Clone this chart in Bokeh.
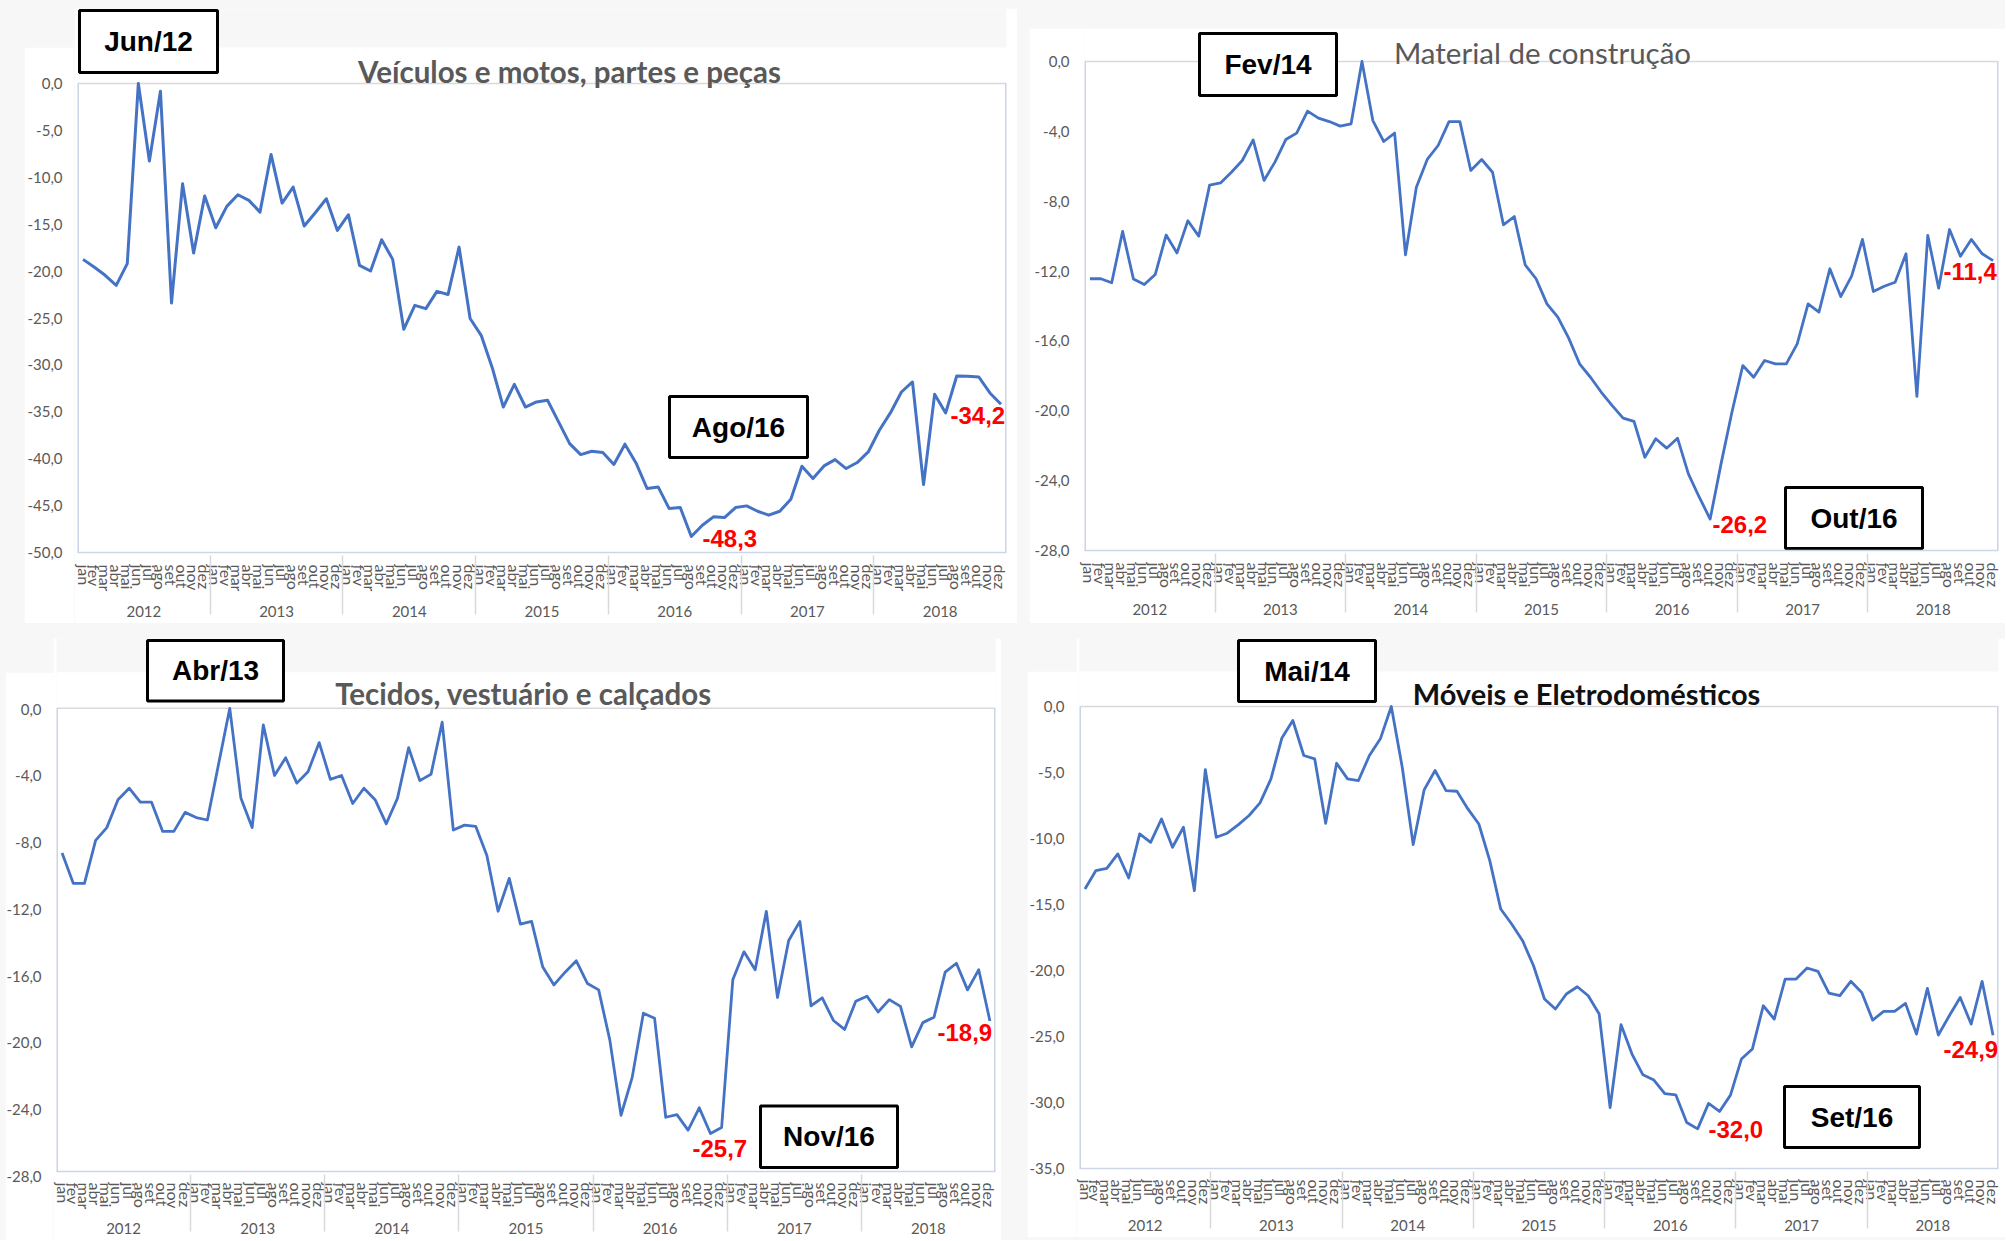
from bokeh.plotting import figure
from bokeh.models import (FactorRange, Range1d, FixedTicker, CustomJSTickFormatter,
                          Label, Spacer, ColumnDataSource)
from bokeh.layouts import row, column
from bokeh.embed import file_html
from bokeh.resources import INLINE

# ---------------- data ----------------
years = ["2012", "2013", "2014", "2015", "2016", "2017", "2018"]
months = ["jan", "fev", "mar", "abr", "mai", "jun", "jul", "ago", "set", "out", "nov", "dez"]

veiculos = [
    -18.75, -19.57, -20.45, -21.52, -19.21, 0.0, -8.27, -0.82, -23.4, -10.69, -18.08, -12.0,
    -15.38, -13.1, -11.86, -12.46, -13.71, -7.56, -12.75, -11.04, -15.2, -13.78, -12.29, -15.66,
    -13.99, -19.39, -19.99, -16.65, -18.75, -26.2, -23.65, -24.0, -22.16, -22.5, -17.44, -25.05,
    -26.85, -30.3, -34.49, -32.07, -34.49, -33.95, -33.77, -36.08, -38.39, -39.56, -39.21, -39.35,
    -40.62, -38.45, -40.45, -43.18, -43.01, -45.32, -45.21, -48.3, -47.09, -46.2, -46.27, -45.21,
    -45.03, -45.6, -46.02, -45.6, -44.32, -40.8, -42.12, -40.77, -40.1, -41.05, -40.41, -39.28,
    -36.97, -35.12, -32.89, -31.82, -42.76, -33.14, -35.12, -31.18, -31.22, -31.29, -32.99, -34.2,
]
material = [
    -12.44, -12.44, -12.67, -9.73, -12.46, -12.77, -12.2, -9.94, -10.96, -9.12, -10.0, -7.08,
    -6.95, -6.34, -5.67, -4.49, -6.81, -5.76, -4.47, -4.1, -2.84, -3.24, -3.44, -3.7,
    -3.57, 0.0, -3.38, -4.58, -4.1, -11.07, -7.2, -5.61, -4.81, -3.44, -3.44, -6.24,
    -5.61, -6.34, -9.35, -8.88, -11.64, -12.44, -13.88, -14.64, -15.84, -17.31, -18.08, -18.94,
    -19.7, -20.42, -20.61, -22.66, -21.6, -22.14, -21.57, -23.61, -24.95, -26.2, -23.04, -20.08,
    -17.41, -18.08, -17.12, -17.31, -17.31, -16.17, -13.88, -14.35, -11.87, -13.46, -12.29, -10.19,
    -13.17, -12.87, -12.64, -11.01, -19.18, -9.96, -12.98, -9.62, -11.15, -10.19, -11.01, -11.4,
]
tecidos = [
    -8.74, -10.58, -10.58, -7.98, -7.21, -5.52, -4.83, -5.67, -5.67, -7.44, -7.44, -6.29,
    -6.6, -6.75, -3.37, 0.0, -5.44, -7.21, -1.0, -4.06, -2.99, -4.52, -3.83, -2.07,
    -4.29, -4.06, -5.75, -4.83, -5.52, -6.98, -5.44, -2.38, -4.37, -3.99, -0.84, -7.36,
    -7.06, -7.13, -8.9, -12.27, -10.28, -13.04, -12.88, -15.64, -16.72, -15.95, -15.26, -16.64,
    -17.02, -20.06, -24.6, -22.31, -18.43, -18.73, -24.72, -24.56, -25.5, -24.15, -25.7, -25.34,
    -16.41, -14.72, -15.8, -12.27, -17.48, -14.03, -12.88, -17.98, -17.5, -18.87, -19.41, -17.71,
    -17.4, -18.36, -17.61, -18.02, -20.47, -19.0, -18.67, -15.95, -15.41, -17.02, -15.8, -18.9,
]
moveis = [
    -13.82, -12.43, -12.26, -11.17, -12.99, -9.65, -10.29, -8.52, -10.66, -9.15, -13.95, -4.78,
    -9.91, -9.6, -8.97, -8.26, -7.3, -5.48, -2.38, -1.06, -3.71, -3.97, -8.85, -4.3,
    -5.48, -5.61, -3.71, -2.45, 0.0, -4.6, -10.46, -6.32, -4.85, -6.37, -6.42, -7.76,
    -8.9, -11.68, -15.34, -16.48, -17.74, -19.64, -22.16, -22.92, -21.78, -21.23, -21.91, -23.3,
    -30.38, -24.11, -26.33, -27.9, -28.3, -29.32, -29.42, -31.51, -32.0, -30.07, -30.68, -29.44,
    -26.71, -25.95, -22.67, -23.68, -20.65, -20.65, -19.81, -20.07, -21.71, -21.91, -20.82, -21.66,
    -23.76, -23.1, -23.1, -22.49, -24.82, -21.35, -24.89, -23.43, -22.04, -24.06, -20.82, -24.9,
]

titles = ["Veículos e motos, partes e peças", "Material de construção",
          "Tecidos, vestuário e calçados", "Móveis e Eletrodomésticos"]
yticks_tl = [0, -5, -10, -15, -20, -25, -30, -35, -40, -45, -50]
yticks_tr = [0, -4, -8, -12, -16, -20, -24, -28]
yticks_bl = [0, -4, -8, -12, -16, -20, -24, -28]
yticks_br = [0, -5, -10, -15, -20, -25, -30, -35]

# ---------------- style ----------------
PAGE_BG = "#F7F7F7"
LINE = "#4472C4"
GRID = "#D9D9D9"
AXIS = "#CCD5E6"
TXT = "#595959"
FONT = "Lato"
BOXFONT = "Liberation Sans"

factors = [(y, m) for y in years for m in months]
N = len(factors)


def style_yaxis(ya, yticks, stand):
    ya.ticker = FixedTicker(ticks=yticks)
    ya.formatter = CustomJSTickFormatter(code="return tick.toFixed(1).replace('.', ',');")
    ya.axis_line_color = None
    ya.major_tick_line_color = None
    ya.minor_tick_line_color = None
    ya.major_tick_in = 0
    ya.major_tick_out = 0
    ya.major_label_standoff = stand
    ya.major_label_text_font = FONT
    ya.major_label_text_font_size = "15px"
    ya.major_label_text_color = TXT


def panel(values, geo, yticks, title, boxes, notes):
    fx0, fy0, w, h = geo["fig"]
    fl, fr, ft, fb = geo["frame"]
    y0px, ymin = geo["y0px"], geo["ymin"]
    unit = (fb - y0px) / (0 - ymin)
    ytop = (y0px - ft) / unit
    mw = (fr - fl) / N
    split = geo.get("yfig") is not None

    def px2x(px):
        return (px - fl) / mw

    def py2y(py):
        return (y0px - py) / unit

    p = figure(width=w, height=h,
               x_range=FactorRange(factors=factors, factor_padding=0, group_padding=0,
                                   subgroup_padding=0, range_padding=0),
               y_range=Range1d(ymin, ytop),
               y_axis_location=None if split else "left",
               output_backend="svg", toolbar_location=None, title=None,
               min_border_left=fl - fx0, min_border_right=fx0 + w - fr,
               min_border_top=ft - fy0, min_border_bottom=fy0 + h - fb,
               background_fill_color="white", border_fill_color="white",
               outline_line_color=None)
    p.xgrid.visible = False
    p.ygrid.visible = False

    xa = p.xaxis[0]
    xa.major_label_orientation = "vertical"
    xa.group_label_orientation = "horizontal"
    xa.major_label_text_font = FONT
    xa.major_label_text_font_size = "16px"
    xa.major_label_text_color = TXT
    xa.group_text_font = FONT
    xa.group_text_font_size = "15px"
    xa.group_text_font_style = "normal"
    xa.group_text_color = TXT
    xa.axis_line_color = AXIS
    xa.axis_line_width = 1.5
    xa.major_tick_line_color = None
    xa.major_tick_in = 0
    xa.major_tick_out = 0
    xa.minor_tick_line_color = None
    xa.major_label_standoff = geo["xstand"]
    xa.separator_line_color = GRID
    xa.separator_line_width = 1.5

    yfig = None
    if split:
        # separate narrow figure carrying the y axis, same pixel scale, starts at card top
        gx0, gy0, gw, gh = geo["yfig"]
        ct = geo["card_top"]
        yfig = figure(width=gw, height=gh, y_range=Range1d(ymin, py2y(ct)),
                      x_range=Range1d(0, 1), x_axis_location=None,
                      output_backend="svg", toolbar_location=None, title=None,
                      min_border_left=gw - 1, min_border_right=0,
                      min_border_top=ct - gy0, min_border_bottom=gy0 + gh - fb,
                      background_fill_color="white", border_fill_color="white",
                      outline_line_color=None)
        yfig.xgrid.visible = False
        yfig.ygrid.visible = False
        style_yaxis(yfig.yaxis[0], yticks, geo["ystand"])
    else:
        style_yaxis(p.yaxis[0], yticks, geo["ystand"])

    # page band above the white card (figure extends upward for the boxes)
    if geo.get("card_top") is not None:
        cb = py2y(geo["card_top"])
        p.quad(left=[-1], right=[N + 1], bottom=[cb], top=[ytop + 1], fill_color=PAGE_BG, line_color=None)

    # plot-area lines
    p.segment(x0=[0], y0=[0], x1=[N], y1=[0], line_color=GRID, line_width=1.5)
    p.segment(x0=[0], y0=[ymin], x1=[0], y1=[0], line_color=AXIS, line_width=3)
    p.segment(x0=[N], y0=[ymin], x1=[N], y1=[0], line_color=AXIS, line_width=3)

    src = ColumnDataSource(dict(x=factors, y=values))
    p.line(x="x", y="y", source=src, line_color=LINE, line_width=geo["lw"], line_join="round")

    # title (anchor = visual centre of the text line)
    p.add_layout(Label(x=px2x(title["x"]), y=py2y(title["mid"]), text=title["text"],
                       text_align="center", text_baseline="middle", text_font=FONT,
                       text_font_size=title["size"], text_font_style=title["style"],
                       text_color=title["color"]))

    # boxed date labels
    for txt, x0, y0, x1, y1 in boxes:
        p.quad(left=[px2x(x0)], right=[px2x(x1)], top=[py2y(y0)], bottom=[py2y(y1)],
               fill_color="white", line_color="black", line_width=3)
        p.add_layout(Label(x=px2x((x0 + x1) / 2), y=py2y((y0 + y1) / 2), text=txt,
                           text_align="center", text_baseline="middle", text_font=BOXFONT,
                           text_font_size="28px", text_font_style="bold", text_color="black"))

    # red value labels (text built from the data value they annotate)
    for idx, xl, mid in notes:
        t = f"{values[idx]:.1f}".replace(".", ",")
        p.add_layout(Label(x=px2x(xl), y=py2y(mid), text=t, text_align="left",
                           text_baseline="middle", text_font=BOXFONT, text_font_size="24px",
                           text_font_style="bold", text_color="#FF0000"))
    return yfig, p


y_tl, p_tl = panel(veiculos,
                   dict(fig=(74, 8, 943, 615), frame=(77, 1006, 8, 552), y0px=83, ymin=-50,
                        card_top=47, yfig=(24, 47, 50, 576), xstand=12, ystand=11, lw=3),
                   yticks_tl,
                   dict(text=titles[0], x=569, mid=71, style="bold", color=TXT, size="29.5px"),
                   [("Jun/12", 79, 10, 217, 72), ("Ago/16", 669, 396, 807, 457)],
                   [(55, 702, 538), (83, 950, 415)])

_, p_tr = panel(material,
                dict(fig=(1029, 28, 976, 595), frame=(1084, 1998, 28, 550), y0px=61, ymin=-28,
                     card_top=None, xstand=12, ystand=15, lw=2.8),
                yticks_tr,
                dict(text=titles[1], x=1542, mid=52, style="normal", color=TXT, size="29.5px"),
                [("Fev/14", 1199, 33, 1336, 95), ("Out/16", 1785, 487, 1922, 548)],
                [(57, 1712, 524), (83, 1943, 271)])

y_bl, p_bl = panel(tecidos,
                   dict(fig=(53, 638, 948, 602), frame=(56, 995, 638, 1176), y0px=708.5, ymin=-28,
                        card_top=672, yfig=(5, 672, 48, 568), xstand=11, ystand=12, lw=2.8),
                   yticks_bl,
                   dict(text=titles[2], x=523, mid=694, style="bold", color=TXT, size="29.5px"),
                   [("Abr/13", 147, 640, 283, 701), ("Nov/16", 760, 1110, 897, 1172)],
                   [(58, 692, 1153), (83, 937, 1036)])

y_br, p_br = panel(moveis,
                   dict(fig=(1076, 638, 929, 599), frame=(1079, 1998, 638, 1168), y0px=706, ymin=-35,
                        card_top=671, yfig=(1027, 671, 49, 566), xstand=11, ystand=12, lw=2.8),
                   yticks_br,
                   dict(text=titles[3], x=1586, mid=693, style="bold", color="#111111", size="29px"),
                   [("Mai/14", 1238, 640, 1375, 701), ("Set/16", 1784, 1086, 1919, 1147)],
                   [(56, 1708, 1129), (83, 1943, 1049)])

row1 = row(Spacer(width=24, height=623),
           column(Spacer(width=50, height=47), y_tl),
           column(Spacer(width=943, height=8), p_tl),
           Spacer(width=12, height=623),
           column(Spacer(width=976, height=28), p_tr))
row2 = row(Spacer(width=5, height=602),
           column(Spacer(width=48, height=34), y_bl),
           p_bl,
           Spacer(width=26, height=602),
           column(Spacer(width=49, height=33), y_br),
           p_br)
root = column(row1, Spacer(width=2005, height=15), row2,
              styles={"background-color": PAGE_BG})

open("out.html", "w").write(file_html(root, INLINE))
